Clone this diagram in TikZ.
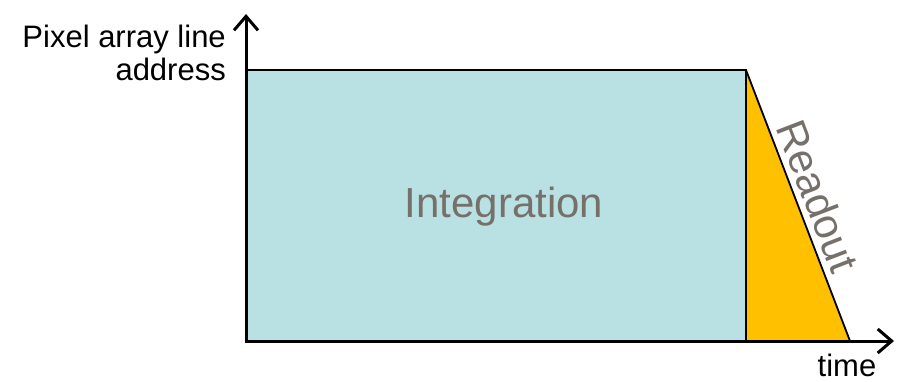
\documentclass[tikz,border=0pt]{standalone}
\usepackage{fontspec}
\setmainfont{Liberation Sans}
\usetikzlibrary{arrows.meta}
\definecolor{integ}{RGB}{185,224,227}
\definecolor{readc}{RGB}{255,192,0}
\definecolor{lbl}{RGB}{118,112,107}
\begin{document}
\begin{tikzpicture}[x=1pt,y=-1pt,
  axis/.style={line width=3pt,-{Straight Barb[length=14pt,width=24pt]}},
  border/.style={line width=1.8pt,line join=miter},
  axlabel/.style={font=\fontsize{31}{33}\selectfont,inner sep=0pt},
  biglabel/.style={font=\fontsize{42}{46}\selectfont,text=lbl,inner sep=0pt}]
\useasboundingbox (0,0) rectangle (902,381);
\coordinate (O) at (246,341);
\coordinate (TL) at (246,70);
\coordinate (TR) at (746,70);
\coordinate (BR) at (746,341);
\coordinate (TE) at (850,341);
\coordinate (Ytop) at (246,14);
\coordinate (Xend) at (894,341);
\fill[integ] (O) -- (TL) -- (TR) -- (BR) -- cycle;
\fill[readc] (TR) -- (BR) -- (TE) -- cycle;
\draw[border] (O) -- (TL) -- (TR) -- (BR);
\draw[border] (TR) -- (TE);
\draw[axis] (O) -- (Ytop);
\draw[axis] ([xshift=-1.5pt]O) -- (Xend);
\node[axlabel,anchor=base east] (l1) at (226,47) {Pixel array line};
\node[axlabel,anchor=base east] (l2) at (226,80) {address};
\node[axlabel,anchor=base] (tm) at (847,376) {time};
\node[biglabel,anchor=base] (int) at (504,217) {Integration};
\node[biglabel,anchor=center,rotate=-69] (ro) at (818,196) {Readout};
\end{tikzpicture}
\end{document}
